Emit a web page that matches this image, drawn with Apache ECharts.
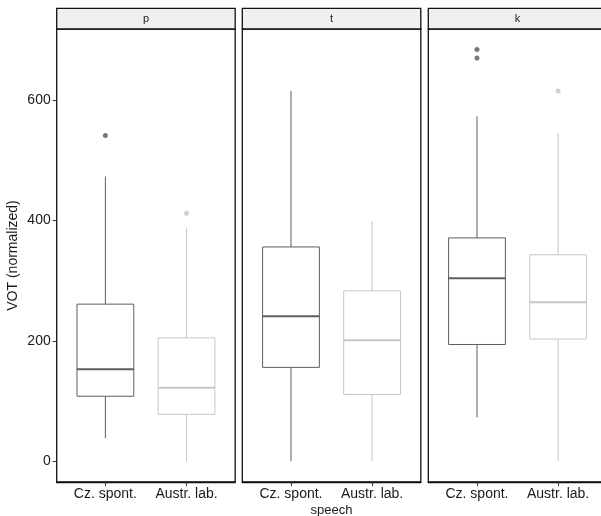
<!DOCTYPE html>
<html>
<head>
<meta charset="utf-8">
<script src="https://cdn.jsdelivr.net/npm/echarts@6/dist/echarts.min.js"></script>
<style>
html,body{margin:0;padding:0;background:#fff;}
#chart{width:601px;height:516px;}
</style>
</head>
<body>
<div id="chart"></div>
<script>
// facets and groups
var panels = ['p', 't', 'k'];
var speech = ['Cz. spont.', 'Austr. lab.'];
var yTicks = [0, 200, 400, 600];

// [min, Q1, median, Q3, max] per panel, Cz. spont. then Austr. lab.
var czBox = [
	[38, 108, 153, 261, 473],
	[0, 156, 241, 356, 615],
	[73, 194, 304, 371, 573]
];
var auBox = [
	[0, 78, 122, 205, 387],
	[0, 111, 201, 283, 399],
	[0, 203, 264, 343, 545]
];
// outliers
var czOut = [[541], [], [684, 670]];
var auOut = [[412], [], [615]];

var czColor = '#5e5e5e';
var auColor = '#c6c6c6';

var chart = echarts.init(document.getElementById('chart'));

var panelLeft = [56.7, 242.3, 428.3];
var panelW = 178.5;
var gridTop = 29, gridBottom = 34, stripTop = 8.3;

function renderBox(params, api) {
	var x = api.value(0);
	var hw = 0.35;
	var lo = api.coord([x, api.value(1)]);
	var q1 = api.coord([x, api.value(2)]);
	var md = api.coord([x, api.value(3)]);
	var q3 = api.coord([x, api.value(4)]);
	var hi = api.coord([x, api.value(5)]);
	var l = api.coord([x - hw, 0])[0];
	var r = api.coord([x + hw, 0])[0];
	var color = api.value(6) === 0 ? czColor : auColor;
	var ls = { stroke: color, lineWidth: 1, fill: null };
	return {
		type: 'group',
		children: [
			{ type: 'line', shape: { x1: lo[0], y1: lo[1], x2: q1[0], y2: q1[1] }, style: ls },
			{ type: 'line', shape: { x1: q3[0], y1: q3[1], x2: hi[0], y2: hi[1] }, style: ls },
			{ type: 'rect', shape: { x: l, y: q3[1], width: r - l, height: q1[1] - q3[1] }, style: { stroke: color, lineWidth: 1, fill: '#fff' } },
			{ type: 'line', shape: { x1: l, y1: md[1], x2: r, y2: md[1] }, style: { stroke: color, lineWidth: 2 } }
		]
	};
}

var grids = [], xAxes = [], yAxes = [], series = [], graphics = [];
panels.forEach(function (name, i) {
	grids.push({
		left: panelLeft[i], top: gridTop, width: panelW, bottom: gridBottom,
		outerBoundsMode: 'none', containLabel: false,
		show: true, borderColor: '#111', borderWidth: 1.3, backgroundColor: '#fff'
	});
	xAxes.push({
		gridIndex: i, type: 'value', min: 0.4, max: 2.6,
		name: i === 1 ? 'speech' : '', nameLocation: 'middle', nameGap: 22,
		nameMoveOverlap: false,
		nameTextStyle: { fontFamily: 'Liberation Sans', fontSize: 13, color: '#1a1a1a' },
		axisLine: { show: true, onZero: false, lineStyle: { color: '#111', width: 1.3 } },
		splitLine: { show: false },
		axisTick: { show: true, inside: false, length: 4, customValues: [1, 2], lineStyle: { color: '#333', width: 1 } },
		axisLabel: {
			customValues: [1, 2], margin: 5,
			fontFamily: 'Liberation Sans', fontSize: 14, color: '#1a1a1a',
			formatter: function (v) { return speech[Math.round(v) - 1] || ''; }
		}
	});
	yAxes.push({
		gridIndex: i, type: 'value', min: -34.4, max: 718,
		name: i === 0 ? 'VOT (normalized)' : '', nameLocation: 'middle', nameGap: 37,
		nameMoveOverlap: false,
		nameTextStyle: { fontFamily: 'Liberation Sans', fontSize: 14, color: '#1a1a1a' },
		axisLine: { show: false, onZero: false },
		splitLine: { show: false },
		axisTick: { show: i === 0, length: 4, customValues: yTicks, lineStyle: { color: '#333' } },
		axisLabel: {
			show: i === 0, customValues: yTicks, margin: 6,
			fontFamily: 'Liberation Sans', fontSize: 14, color: '#1a1a1a'
		}
	});
	series.push({
		type: 'custom', xAxisIndex: i, yAxisIndex: i,
		renderItem: renderBox,
		encode: { x: 0, y: [1, 2, 3, 4, 5] },
		data: [
			[1].concat(czBox[i]).concat([0]),
			[2].concat(auBox[i]).concat([1])
		],
		silent: true, z: 2
	});
	series.push({
		type: 'scatter', xAxisIndex: i, yAxisIndex: i, symbolSize: 5,
		itemStyle: { color: '#555' },
		data: czOut[i].map(function (v) { return [1, v]; }), z: 3
	});
	series.push({
		type: 'scatter', xAxisIndex: i, yAxisIndex: i, symbolSize: 5,
		itemStyle: { color: '#c4c4c4' },
		data: auOut[i].map(function (v) { return [2, v]; }), z: 3
	});
	// facet strip
	graphics.push({
		type: 'rect', z: 10,
		shape: { x: panelLeft[i], y: stripTop, width: panelW, height: gridTop - stripTop },
		style: { fill: '#f0f0f0', stroke: '#111', lineWidth: 1.3 }
	});
	graphics.push({
		type: 'text', z: 11,
		x: panelLeft[i] + panelW / 2, y: stripTop + (gridTop - stripTop) / 2,
		style: { text: name, fontFamily: 'Liberation Sans', fontSize: 11, fill: '#1a1a1a', align: 'center', verticalAlign: 'middle' }
	});
});

var option = {
	animation: false,
	grid: grids,
	xAxis: xAxes,
	yAxis: yAxes,
	series: series,
	graphic: graphics
};
chart.setOption(option);
window.onresize = chart.resize;
</script>
</body>
</html>
